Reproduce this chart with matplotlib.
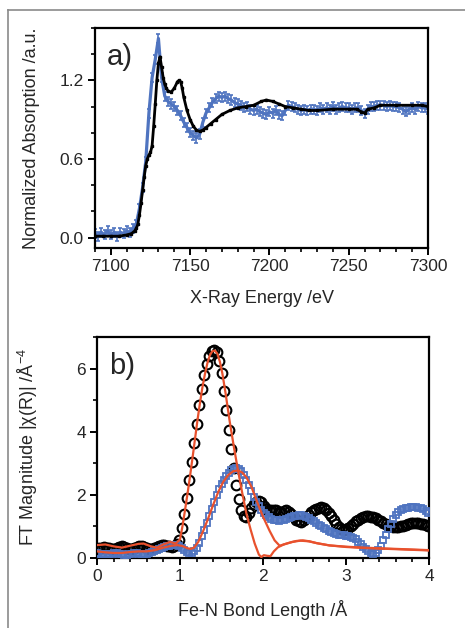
import matplotlib
matplotlib.use("Agg")
import matplotlib.pyplot as plt
from matplotlib.lines import Line2D
from matplotlib.ticker import MultipleLocator, FormatStrFormatter

plt.rcParams['font.family'] = ['Liberation Sans', 'DejaVu Sans']
plt.rcParams['mathtext.fontset'] = 'custom'
plt.rcParams['mathtext.rm'] = 'Liberation Sans'

# --- panel a: XANES ---
energy_black = [7090, 7095, 7100, 7105, 7110, 7113, 7115, 7116, 7117, 7118,
                7119, 7120, 7121, 7122, 7123, 7124, 7125, 7126, 7127, 7128,
                7129, 7130, 7131, 7132, 7133, 7134, 7135, 7136, 7138, 7140,
                7142, 7143, 7144, 7145, 7146, 7148, 7150, 7152, 7154, 7156,
                7158, 7160, 7163, 7166, 7170, 7175, 7180, 7185, 7190, 7195,
                7198, 7202, 7206, 7210, 7215, 7220, 7225, 7230, 7240, 7250,
                7255, 7258, 7260, 7262, 7266, 7270, 7280, 7290, 7296, 7300]
absorb_black = [0.01, 0.01, 0.01, 0.01, 0.02, 0.03, 0.05, 0.07, 0.10, 0.17,
                0.26, 0.36, 0.46, 0.55, 0.60, 0.63, 0.65, 0.70, 0.85, 1.02,
                1.20, 1.33, 1.38, 1.30, 1.22, 1.17, 1.14, 1.12, 1.11, 1.14,
                1.19, 1.20, 1.19, 1.14, 1.07, 0.97, 0.90, 0.85, 0.82, 0.81,
                0.82, 0.84, 0.87, 0.90, 0.94, 0.97, 0.99, 1.00, 1.01, 1.04,
                1.05, 1.04, 1.02, 1.00, 0.99, 0.98, 0.97, 0.97, 0.98, 0.98,
                0.98, 0.96, 0.95, 0.98, 0.99, 1.01, 1.01, 1.01, 1.01, 1.00]

energy_blue = list(range(7090, 7301, 2))
absorb_blue = [0.03, 0.01, 0.04, 0.02, 0.05, 0.02, 0.04, 0.01, 0.04, 0.03,
               0.05, 0.04, 0.07, 0.10, 0.22, 0.38, 0.58, 0.95, 1.22, 1.36,
               1.52, 1.22, 1.08, 1.04, 1.02, 1.00, 0.97, 0.93, 0.88, 0.84,
               0.80, 0.78, 0.76, 0.79, 0.88, 0.95, 0.99, 1.03, 1.06, 1.08,
               1.07, 1.08, 1.06, 1.05, 1.03, 1.02, 1.01, 0.99, 1.00, 0.98,
               0.97, 0.98, 0.96, 0.95, 0.94, 0.96, 0.95, 0.97, 0.94, 0.93,
               0.97, 1.01, 1.00, 0.99, 0.98, 0.97, 0.98, 0.97, 0.98, 0.98,
               0.97, 0.99, 0.98, 0.99, 0.98, 1.00, 0.98, 0.99, 1.00, 0.99,
               0.99, 0.98, 0.99, 0.99, 0.97, 0.95, 0.98, 1.00, 1.00, 1.01,
               1.01, 1.01, 1.00, 1.01, 1.00, 1.00, 0.99, 0.98, 0.96, 0.98,
               0.99, 0.98, 1.00, 0.99, 0.99, 0.98]
blue_err = 0.035

# --- panel b: FT magnitude ---
r_data = [0.00, 0.03, 0.06, 0.09, 0.12, 0.15, 0.18, 0.21, 0.24, 0.27,
          0.30, 0.33, 0.36, 0.39, 0.42, 0.45, 0.48, 0.51, 0.54, 0.57,
          0.60, 0.63, 0.66, 0.69, 0.72, 0.75, 0.78, 0.81, 0.84, 0.87,
          0.90, 0.93, 0.96, 0.99, 1.02, 1.05, 1.08, 1.11, 1.14, 1.17,
          1.20, 1.23, 1.26, 1.29, 1.32, 1.35, 1.38, 1.41, 1.44, 1.47,
          1.50, 1.53, 1.56, 1.59, 1.62, 1.65, 1.68, 1.71, 1.74, 1.77,
          1.80, 1.83, 1.86, 1.89, 1.92, 1.95, 1.98, 2.01, 2.04, 2.07,
          2.10, 2.13, 2.16, 2.19, 2.22, 2.25, 2.28, 2.31, 2.34, 2.37,
          2.40, 2.43, 2.46, 2.49, 2.52, 2.55, 2.58, 2.61, 2.64, 2.67,
          2.70, 2.73, 2.76, 2.79, 2.82, 2.85, 2.88, 2.91, 2.94, 2.97,
          3.00, 3.03, 3.06, 3.09, 3.12, 3.15, 3.18, 3.21, 3.24, 3.27,
          3.30, 3.33, 3.36, 3.39, 3.42, 3.45, 3.48, 3.51, 3.54, 3.57,
          3.60, 3.63, 3.66, 3.69, 3.72, 3.75, 3.78, 3.81, 3.84, 3.87,
          3.90, 3.93, 3.96, 3.99]
ft_black = [0.28, 0.30, 0.32, 0.33, 0.32, 0.30, 0.28, 0.29, 0.32, 0.35,
            0.36, 0.34, 0.30, 0.27, 0.27, 0.30, 0.35, 0.38, 0.38, 0.35,
            0.31, 0.28, 0.28, 0.31, 0.35, 0.38, 0.40, 0.40, 0.38, 0.36,
            0.35, 0.36, 0.42, 0.55, 0.95, 1.40, 1.90, 2.45, 3.05, 3.65,
            4.25, 4.85, 5.35, 5.78, 6.15, 6.40, 6.55, 6.60, 6.52, 6.25,
            5.85, 5.30, 4.70, 4.05, 3.45, 2.85, 2.30, 1.85, 1.52, 1.32,
            1.30, 1.42, 1.58, 1.70, 1.78, 1.80, 1.76, 1.65, 1.55, 1.50,
            1.50, 1.52, 1.50, 1.46, 1.45, 1.48, 1.50, 1.46, 1.38, 1.28,
            1.20, 1.15, 1.14, 1.18, 1.26, 1.35, 1.44, 1.50, 1.55, 1.58,
            1.60, 1.58, 1.52, 1.43, 1.32, 1.20, 1.08, 0.98, 0.92, 0.89,
            0.90, 0.94, 1.00, 1.08, 1.15, 1.21, 1.26, 1.29, 1.31, 1.31,
            1.30, 1.28, 1.25, 1.21, 1.16, 1.11, 1.06, 1.02, 0.99, 0.97,
            0.96, 0.97, 0.99, 1.02, 1.05, 1.08, 1.10, 1.11, 1.11, 1.10,
            1.08, 1.06, 1.04, 1.02]
ft_blue = [0.14, 0.13, 0.12, 0.11, 0.11, 0.12, 0.13, 0.14, 0.14, 0.13,
           0.11, 0.10, 0.10, 0.11, 0.13, 0.14, 0.14, 0.13, 0.12, 0.12,
           0.13, 0.15, 0.18, 0.21, 0.24, 0.27, 0.30, 0.33, 0.36, 0.38,
           0.40, 0.40, 0.39, 0.36, 0.31, 0.25, 0.19, 0.15, 0.14, 0.20,
           0.32, 0.48, 0.68, 0.88, 1.10, 1.33, 1.55, 1.77, 1.98, 2.17,
           2.34, 2.48, 2.60, 2.70, 2.77, 2.81, 2.83, 2.81, 2.74, 2.62,
           2.47, 2.30, 2.12, 1.94, 1.78, 1.64, 1.52, 1.42, 1.34, 1.28,
           1.23, 1.20, 1.18, 1.17, 1.18, 1.20, 1.23, 1.26, 1.29, 1.31,
           1.33, 1.34, 1.34, 1.32, 1.29, 1.25, 1.20, 1.15, 1.10, 1.05,
           1.00, 0.95, 0.90, 0.85, 0.81, 0.78, 0.75, 0.73, 0.72, 0.71,
           0.70, 0.69, 0.67, 0.64, 0.58, 0.51, 0.43, 0.35, 0.27, 0.20,
           0.14, 0.11, 0.14, 0.24, 0.38, 0.55, 0.73, 0.91, 1.08, 1.23,
           1.35, 1.44, 1.50, 1.54, 1.57, 1.59, 1.60, 1.61, 1.60, 1.59,
           1.57, 1.54, 1.49, 1.43]

fit1_r = [0.00, 0.10, 0.20, 0.30, 0.40, 0.50, 0.56, 0.65, 0.72, 0.80,
          0.88, 0.95, 1.00, 1.03, 1.06, 1.09, 1.12, 1.15, 1.18, 1.21,
          1.24, 1.27, 1.30, 1.33, 1.36, 1.39, 1.42, 1.45, 1.48, 1.51,
          1.55, 1.60, 1.65, 1.70, 1.75, 1.80, 1.85, 1.90, 1.95, 1.98,
          2.01, 2.05, 2.09, 2.13, 2.18, 2.25, 2.35, 2.45, 2.55, 2.65,
          2.80, 3.00, 3.20, 3.40, 3.60, 3.80, 4.00]
fit1_y = [0.40, 0.42, 0.36, 0.32, 0.38, 0.44, 0.45, 0.36, 0.32, 0.42,
          0.50, 0.45, 0.58, 1.00, 1.50, 2.02, 2.57, 3.15, 3.75, 4.35,
          4.90, 5.40, 5.82, 6.17, 6.42, 6.55, 6.57, 6.47, 6.22, 5.85,
          5.20, 4.30, 3.50, 2.75, 2.05, 1.40, 0.90, 0.45, 0.10, 0.02,
          0.08, 0.06, 0.05, 0.20, 0.33, 0.42, 0.50, 0.54, 0.52, 0.46,
          0.39, 0.34, 0.31, 0.29, 0.27, 0.25, 0.23]
fit2_r = [0.00, 0.10, 0.20, 0.30, 0.40, 0.50, 0.60, 0.70, 0.80, 0.90,
          0.97, 1.03, 1.09, 1.13, 1.17, 1.22, 1.28, 1.34, 1.40, 1.46,
          1.52, 1.58, 1.64, 1.70, 1.75, 1.80, 1.86, 1.92, 2.00, 2.08,
          2.14, 2.20, 2.30, 2.40, 2.48, 2.56, 2.65, 2.80, 3.00, 3.20,
          3.40, 3.60, 3.80, 4.00]
fit2_y = [0.20, 0.17, 0.15, 0.15, 0.18, 0.20, 0.20, 0.24, 0.32, 0.38,
          0.40, 0.37, 0.30, 0.28, 0.32, 0.50, 0.85, 1.25, 1.68, 2.08,
          2.40, 2.62, 2.74, 2.77, 2.70, 2.55, 2.25, 1.83, 1.30, 0.85,
          0.55, 0.38, 0.46, 0.53, 0.55, 0.52, 0.46, 0.39, 0.35, 0.32,
          0.30, 0.28, 0.26, 0.24]

blue = '#4f74c0'
red = '#e8512d'
txt = '#262626'

fig = plt.figure(figsize=(4.65, 6.28), dpi=100)

# thin grey frame at left and top of the figure
fx = 8 / 465
fy = 1 - 10 / 628
fig.add_artist(Line2D([fx, fx], [0, fy], color='#8a8a8a', lw=1.2))
fig.add_artist(Line2D([fx, 1], [fy, fy], color='#8a8a8a', lw=1.2))

ax1 = fig.add_axes([95 / 465, 1 - 248 / 628, 333 / 465, 220 / 628])
ax2 = fig.add_axes([97 / 465, 1 - 557.7 / 628, 332 / 465, 220.7 / 628])

# panel a
ax1.errorbar(energy_blue, absorb_blue, yerr=blue_err, color=blue, lw=2.3,
             elinewidth=1.2, capsize=1.5, capthick=1.2, zorder=2)
ax1.plot(energy_black, absorb_black, color='black', lw=2.0, marker='s',
         ms=2, zorder=3)
ax1.set_xlim(7090, 7300)
ax1.set_ylim(-0.08, 1.6)
ax1.xaxis.set_major_locator(MultipleLocator(50))
ax1.xaxis.set_minor_locator(MultipleLocator(10))
ax1.yaxis.set_major_locator(MultipleLocator(0.6))
ax1.yaxis.set_minor_locator(MultipleLocator(0.2))
ax1.yaxis.set_major_formatter(FormatStrFormatter('%.1f'))
ax1.set_xlabel('X-Ray Energy /eV', fontsize=13, color=txt)
ax1.set_ylabel('Normalized Absorption /a.u.', fontsize=13, color=txt)
ax1.text(0.035, 0.93, 'a)', transform=ax1.transAxes, fontsize=21,
         va='top', ha='left', color=txt)

# panel b
ax2.plot(r_data, ft_black, ls='none', marker='o', ms=7, mfc='none',
         mec='black', mew=1.5, zorder=2)
ax2.plot(r_data, ft_blue, ls='none', marker='s', ms=4.5, mfc='none',
         mec=blue, mew=1.3, zorder=3)
ax2.plot(fit1_r, fit1_y, color=red, lw=1.6, zorder=4)
ax2.plot(fit2_r, fit2_y, color=red, lw=1.6, zorder=4)
ax2.set_xlim(0, 4)
ax2.set_ylim(0, 7)
ax2.xaxis.set_major_locator(MultipleLocator(1))
ax2.xaxis.set_minor_locator(MultipleLocator(0.2))
ax2.yaxis.set_major_locator(MultipleLocator(2))
ax2.yaxis.set_minor_locator(MultipleLocator(1))
ax2.set_xlabel('Fe-N Bond Length /Å', fontsize=13, color=txt)
ax2.set_ylabel('FT Magnitude |χ(R)| /Å$^{-4}$', fontsize=13, color=txt)
ax2.text(0.035, 0.93, 'b)', transform=ax2.transAxes, fontsize=21,
         va='top', ha='left', color=txt)

for ax in (ax1, ax2):
    for s in ax.spines.values():
        s.set_linewidth(1.6)
    ax.tick_params(which='major', direction='out', length=5, width=1.4,
                   labelsize=12.5, labelcolor=txt, pad=3)
    ax.tick_params(which='minor', direction='out', length=3, width=1.2)
    ax.tick_params(top=False, right=False, which='both')

ax1.yaxis.set_label_coords(-0.165, 0.5)
ax2.yaxis.set_label_coords(-0.172, 0.5)
ax1.xaxis.set_label_coords(0.5, -0.19)
ax2.xaxis.set_label_coords(0.5, -0.19)

fig.savefig('out.png', dpi=100)
